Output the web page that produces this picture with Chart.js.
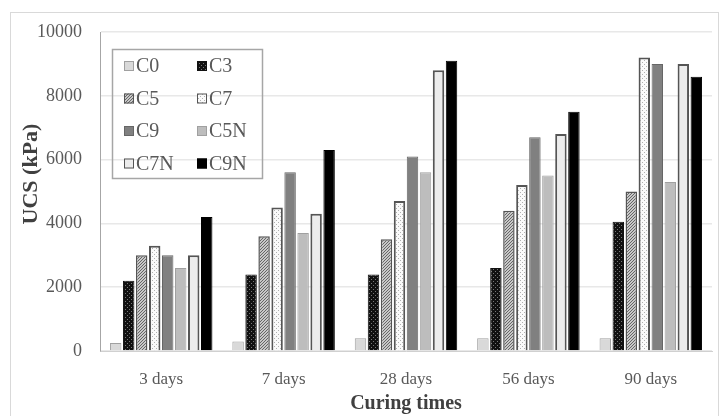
<!DOCTYPE html>
<html>
<head>
<meta charset="utf-8">
<script src="https://cdn.jsdelivr.net/npm/chart.js@4"></script>
<style>
  body { margin: 0; background: #fff; }
  #wrap { width: 720px; height: 416px; }
</style>
</head>
<body>
<div id="wrap"><canvas id="myChart" width="720" height="416"></canvas></div>
<script>
// categories and series (UCS in kPa)
const categories = ['3 days', '7 days', '28 days', '56 days', '90 days'];
const seriesNames = ['C0', 'C3', 'C5', 'C7', 'C9', 'C5N', 'C7N', 'C9N'];
const C0 = [250, 300, 400, 400, 400];
const C3 = [2200, 2400, 2400, 2600, 4050];
const C5 = [3000, 3600, 3500, 4400, 5000];
const C7 = [3300, 4500, 4700, 5200, 9200];
const C9 = [3000, 5600, 6100, 6700, 9000];
const C5N = [2600, 3700, 5600, 5500, 5300];
const C7N = [3000, 4300, 8800, 6800, 9000];
const C9N = [4200, 6300, 9100, 7500, 8600];
const yTicks = [0, 2000, 4000, 6000, 8000, 10000];

// small canvas patterns to imitate the grey-scale fills
function makePattern(size, draw) {
    const c = document.createElement('canvas');
    c.width = size; c.height = size;
    const g = c.getContext('2d');
    draw(g, size);
    return g.createPattern(c, 'repeat');
}
const dotsDark = makePattern(4, (g, s) => {
    g.fillStyle = '#111'; g.fillRect(0, 0, s, s);
    g.fillStyle = '#777'; g.fillRect(1, 1, 1, 1); g.fillRect(3, 3, 1, 1);
});
const hatch = makePattern(3, (g, s) => {
    g.fillStyle = '#c8c8c8'; g.fillRect(0, 0, s, s);
    g.fillStyle = '#666';
    for (let i = 0; i < s; i++) g.fillRect(i, s - 1 - i, 1, 1);
});
const dotsLight = makePattern(4, (g, s) => {
    g.fillStyle = '#fafafa'; g.fillRect(0, 0, s, s);
    g.fillStyle = '#b0b0b0'; g.fillRect(0, 0, 1, 1); g.fillRect(2, 2, 1, 1);
});

const fills = [
    { bg: '#d9d9d9', border: '#a0a0a0', w: 1 },
    { bg: dotsDark, border: '#111', w: 1 },
    { bg: hatch, border: '#555', w: 1.5 },
    { bg: dotsLight, border: '#555', w: 2 },
    { bg: '#808080', border: '#666', w: 1 },
    { bg: '#bdbdbd', border: '#a0a0a0', w: 1 },
    { bg: '#ececec', border: '#555', w: 2 },
    { bg: '#000', border: '#000', w: 1 }
];
const seriesData = [C0, C3, C5, C7, C9, C5N, C7N, C9N];

// legend drawn inside the plot, two columns, plus the y title and frame
const boxLegend = {
    id: 'boxLegend',
    afterDraw(chart) {
        const ctx = chart.ctx;
        ctx.save();
        ctx.strokeStyle = '#a6a6a6';
        ctx.lineWidth = 1.5;
        ctx.strokeRect(112.5, 49.5, 150, 129);
        ctx.font = '20px "Liberation Serif", serif';
        ctx.textBaseline = 'middle';
        chart.data.datasets.forEach((ds, i) => {
            const col = i % 2, row = Math.floor(i / 2);
            const x = col === 0 ? 124 : 197;
            const y = 66 + row * 32.5;
            ctx.fillStyle = ds.backgroundColor;
            ctx.fillRect(x, y - 5, 10, 10);
            ctx.strokeStyle = ds.borderColor;
            ctx.lineWidth = 1;
            ctx.strokeRect(x + 0.5, y - 4.5, 9, 9);
            ctx.fillStyle = '#595959';
            ctx.fillText(ds.label, x + 12, y + 1);
        });
        // y axis title
        ctx.save();
        ctx.translate(31, 174);
        ctx.rotate(-Math.PI / 2);
        ctx.textAlign = 'center';
        ctx.fillStyle = '#404040';
        ctx.font = 'bold 22px "Liberation Serif", serif';
        ctx.fillText('UCS (kPa)', 0, 0);
        ctx.restore();
        // outer frame of the figure
        ctx.strokeStyle = '#d9d9d9';
        ctx.lineWidth = 1;
        ctx.strokeRect(10.5, 12.5, 708, 410);
        ctx.restore();
    }
};

const ctx = document.getElementById('myChart').getContext('2d');
const chart = new Chart(ctx, {
    type: 'bar',
    data: {
        labels: categories,
        datasets: seriesNames.map((name, i) => ({
            label: name,
            data: seriesData[i],
            backgroundColor: fills[i].bg,
            borderColor: fills[i].border,
            borderWidth: fills[i].w,
            categoryPercentage: 0.85,
            barPercentage: 0.88
        }))
    },
    options: {
        responsive: false,
        animation: false,
        layout: { padding: { left: 0, right: 8, top: 32, bottom: 0 } },
        plugins: {
            legend: { display: false },
            tooltip: { enabled: false }
        },
        scales: {
            x: {
                grid: { display: false, drawTicks: false },
                border: { color: '#d0d0d0', width: 1 },
                ticks: {
                    color: '#595959',
                    padding: 18,
                    font: { family: '"Liberation Serif", serif', size: 17 }
                },
                title: {
                    display: true,
                    text: 'Curing times',
                    color: '#404040',
                    padding: { top: 1, bottom: 0 },
                    font: { family: '"Liberation Serif", serif', size: 20, weight: 'bold' }
                },
                afterFit(scale) { scale.height = 65; }
            },
            y: {
                min: 0,
                max: 10000,
                afterBuildTicks(scale) { scale.ticks = yTicks.map(v => ({ value: v })); },
                grid: { color: '#e8e8e8', lineWidth: 1.5, drawTicks: false },
                border: { color: '#a6a6a6', width: 1 },
                ticks: {
                    color: '#595959',
                    padding: 18,
                    font: { family: '"Liberation Serif", serif', size: 18 },
                    callback: v => String(v)
                },
                afterFit(scale) { scale.width = 100; }
            }
        }
    },
    plugins: [boxLegend]
});
</script>
</body>
</html>
